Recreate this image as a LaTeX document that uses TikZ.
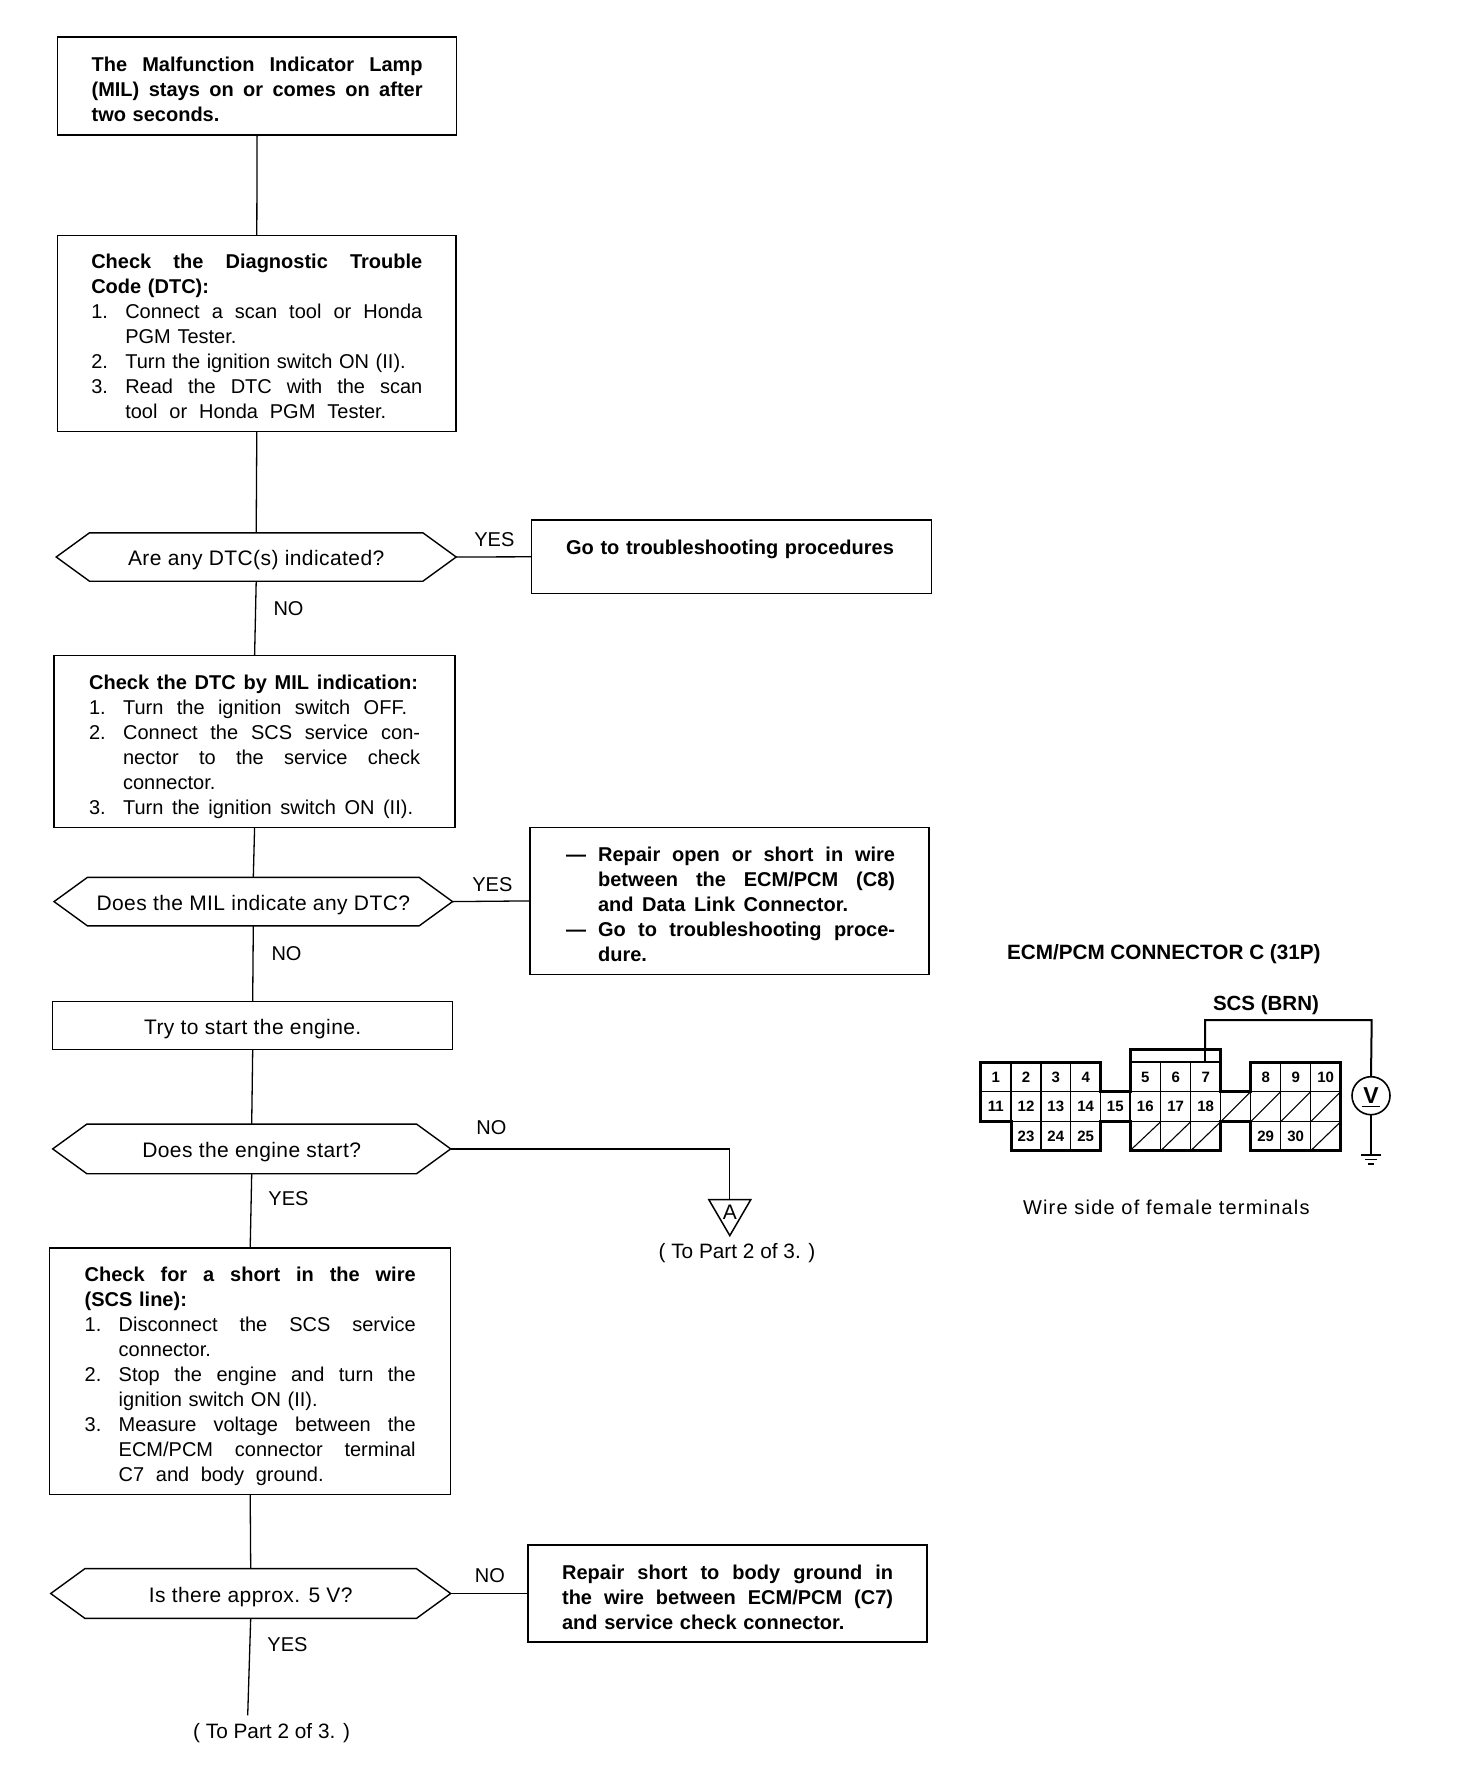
\documentclass[tikz,border=0pt]{standalone}
\usepackage{fontspec}
\setmainfont{Liberation Sans}
\newfontfamily\wirefont[LetterSpace=6]{Liberation Sans}
\newfontfamily\hexfont[LetterSpace=2]{Liberation Sans}
\usetikzlibrary{shapes.symbols,calc}
% line helpers: J/Nj/Cj/Dj stretch the word spaces to the full measure
\newcommand{\sk}{\spaceskip=.278em plus 1fil\xspaceskip=\spaceskip\relax}
\newcommand{\lnstrut}{\rule[-6pt]{0pt}{15pt}}
\newcommand{\tg}[1]{\rule{0pt}{\dimexpr15pt+#1pt\relax}}
\newcommand{\upg}[1]{\rule[-\dimexpr6pt+#1pt\relax]{0pt}{1pt}}
\newcommand{\J}[1]{\lnstrut\hbox to 331pt{\sk #1}}
\newcommand{\Ln}[1]{\lnstrut\hbox to 331pt{#1\hss}}
\newcommand{\Lw}[2]{\lnstrut\hbox to 331pt{\hbox to #1pt{\sk #2}\hss}}
\newcommand{\numb}[1]{\hbox to 34pt{#1\hss}}
\newcommand{\Nj}[2]{\lnstrut\numb{#1}\hbox to 297pt{\sk #2}}
\newcommand{\Nl}[2]{\lnstrut\numb{#1}\hbox to 297pt{#2\hss}}
\newcommand{\Nw}[3]{\lnstrut\numb{#2}\hbox to #1pt{\sk #3}}
\newcommand{\Cj}[1]{\lnstrut\numb{}\hbox to 297pt{\sk #1}}
\newcommand{\Cl}[1]{\lnstrut\numb{}\hbox to 297pt{#1\hss}}
\newcommand{\Cw}[2]{\lnstrut\numb{}\hbox to #1pt{\sk #2}}
\newcommand{\dsh}[1]{\hbox to 34pt{\hskip2pt #1\hss}}
\newcommand{\Dj}[2]{\lnstrut\dsh{#1}\hbox to 297pt{\sk #2}}
\newcommand{\Dl}[2]{\lnstrut\dsh{#1}\hbox to 297pt{#2\hss}}
\newcommand{\Dw}[3]{\lnstrut\dsh{#2}\hbox to #1pt{\sk #3}}
\tikzset{
  x=1pt,y=-1pt,
  base/.style={inner sep=0pt,outer sep=0pt,font=\fontsize{20}{25}\selectfont},
  box/.style={base,draw,line width=1.4pt,text width=331pt,align=left},
  cbox/.style={base,draw,line width=1.4pt,align=center,font=\fontsize{21}{25}\selectfont\hexfont,execute at begin node={\rule[-5pt]{0pt}{27pt}}},
  hex/.style={base,draw,line width=1.4pt,shape=signal,signal to=west and east,signal pointer angle=72,align=center,font=\fontsize{21}{25}\selectfont\hexfont,execute at begin node={\rule[-5pt]{0pt}{27pt}}},
  conn/.style={line width=1.3pt},
  lab/.style={base},
  part/.style={base,font=\fontsize{20.8}{25}\selectfont},
  num/.style={inner sep=0pt,outer sep=0pt,font=\fontsize{15}{16}\selectfont\bfseries},
  cthin/.style={line width=1.1pt},
  cmid/.style={line width=1.9pt},
  cthick/.style={line width=3pt,line join=miter},
}
\begin{document}
\begin{tikzpicture}
\useasboundingbox (0,0) rectangle (1472,1766);
% flowchart boxes
\node[box,minimum width=399pt,minimum height=98pt] (b1) at (257.1,86.1) {\bfseries
 \tg{11}\J{The Malfunction Indicator Lamp}\\ \J{(MIL) stays on or comes on after}\\ \Ln{two seconds.}};
\node[box,minimum width=398.4pt,minimum height=196pt] (b2) at (256.8,333.4) {
 \tg{11.5}\J{\bfseries Check the Diagnostic Trouble}\\ \Ln{\bfseries Code (DTC):}\\
 \Nj{1.}{Connect a scan tool or Honda}\\ \Cl{PGM Tester.}\\
 \Nl{2.}{Turn the ignition switch ON (II).}\\
 \Nj{3.}{Read the DTC with the scan}\\ \Cw{261}{tool or Honda PGM Tester.}};
\node[hex,minimum width=400pt,minimum height=48.4pt] (d1) at (256.2,557) {Are any DTC(s) indicated?};
\node[box,minimum width=400pt,minimum height=73.3pt] (go) at (731.6,556.8) {\bfseries
 \upg{14}\Ln{Go to troubleshooting procedures}};
\node[box,minimum width=401pt,minimum height=172pt] (b3) at (254.6,741.5) {
 \tg{11}\Lw{329}{\bfseries Check the DTC by MIL indication:}\\
 \Nw{284}{1.}{Turn the ignition switch OFF.}\\
 \Nj{2.}{Connect the SCS service con-}\\ \Cj{nector to the service check}\\ \Cl{connector.}\\
 \Nw{290}{3.}{Turn the ignition switch ON (II).}};
\node[hex,minimum width=398.5pt,minimum height=48.5pt] (d2) at (253.3,901.6) {Does the MIL indicate any DTC?};
\node[box,minimum width=399pt,minimum height=146.7pt] (rep) at (729.6,900.9) {\bfseries
 \tg{12}\Dj{—}{Repair open or short in wire}\\ \Dj{}{between the ECM/PCM (C8)}\\ \Dw{250}{}{and Data Link Connector.}\\
 \Dj{—}{Go to troubleshooting proce-}\\ \Dl{}{dure.}};
\node[cbox,minimum width=400pt,minimum height=48.4pt] (try) at (252.7,1025.5) {Try to start the engine.};
\node[hex,minimum width=398pt,minimum height=49.7pt] (d3) at (251.7,1148.9) {Does the engine start?};
\node[box,minimum width=401pt,minimum height=246.7pt] (b4) at (250.2,1371.3) {
 \tg{10.6}\J{\bfseries Check for a short in the wire}\\ \Ln{\bfseries (SCS line):}\\
 \Nj{1.}{Disconnect the SCS service}\\ \Cl{connector.}\\
 \Nj{2.}{Stop the engine and turn the}\\ \Cl{ignition switch ON (II).}\\
 \Nj{3.}{Measure voltage between the}\\ \Cj{ECM/PCM connector terminal}\\ \Cw{205}{C7 and body ground.}};
\node[hex,minimum width=400pt,minimum height=49.7pt] (d4) at (250.7,1593.5) {Is there approx. 5 V?};
\node[box,minimum width=399pt,minimum height=97pt] (sh) at (727.6,1593.5) {\bfseries
 \tg{12}\J{Repair short to body ground in}\\ \J{the wire between ECM/PCM (C7)}\\ \Ln{and service check connector.}};
% off-page marks
\coordinate (tritop) at (729.8,1199.6);
\coordinate (endb) at (247.7,1715.4);
\node[part] (toa) at (737,1253.5) {( To Part 2 of 3. )};
\node[part] (tob) at (271.6,1733) {( To Part 2 of 3. )};
\draw[line width=1.5pt,line join=miter] ($(tritop)+(-21,0)$) -- ($(tritop)+(21,0)$) -- ($(tritop)+(0,36)$) -- cycle;
\node[inner sep=0pt,font=\fontsize{21}{22}\selectfont] (triA) at ($(tritop)+(0,13)$) {A};
% connectors
\draw[conn] (b1.south) -- (b2.north);
\draw[conn] (b2.south) -- (d1.north);
\draw[conn] (d1.east) -- (go.west);
\draw[conn] (d1.south) -- (b3.north);
\draw[conn] (b3.south) -- (d2.north);
\draw[conn] (d2.east) -- (rep.west);
\draw[conn] (d2.south) -- (try.north);
\draw[conn] (try.south) -- (d3.north);
\draw[conn] (d3.east) -| (tritop);
\draw[conn] (d3.south) -- (b4.north);
\draw[conn] (b4.south) -- (d4.north);
\draw[conn] (d4.east) -- (sh.west);
\draw[conn] (d4.south) -- (endb);
% connector labels
\node[lab] (l1) at (494.4,539.2) {YES};
\node[lab] (l2) at (288.5,609) {NO};
\node[lab] (l3) at (492.4,884.3) {YES};
\node[lab] (l4) at (286.5,953.9) {NO};
\node[lab] (l5) at (491.4,1128) {NO};
\node[lab] (l6) at (288.5,1198.6) {YES};
\node[lab] (l7) at (489.9,1575.6) {NO};
\node[lab] (l8) at (287.5,1644.2) {YES};
% terminal diagram
\node[base,font=\fontsize{20.7}{22}\selectfont\bfseries,anchor=west] (ct) at (1007,954) {ECM/PCM CONNECTOR C (31P)};
\node[base,font=\fontsize{20.5}{22}\selectfont\bfseries,anchor=west] (scs) at (1213,1005) {SCS (BRN)};
\node[base,anchor=west,font=\fontsize{20}{22}\selectfont\wirefont] (ws) at (1023,1207) {Wire side of female terminals};
% cell grid
\def\ra{1062.3}\def\rb{1091.7}\def\rc{1121.7}\def\rd{1150.7}\def\hood{1049.3}
\foreach \x in {1011,1041,1070.7}{\draw[cthin] (\x,\ra) -- (\x,\rd);}
\draw[cthin] (1160.7,\ra) -- (1160.7,\rd);
\draw[cthin] (1190.7,\ra) -- (1190.7,\rd);
\draw[cthin] (1280.7,\ra) -- (1280.7,\rd);
\draw[cthin] (1310.7,\ra) -- (1310.7,\rd);
\draw[cthin] (1100.7,\rb) -- (1100.7,\rc);
\draw[cthin] (1130,\rb) -- (1130,\rc);
\draw[cthin] (1220.7,\rb) -- (1220.7,\rc);
\draw[cthin] (1250.7,\rb) -- (1250.7,\rc);
\draw[cmid] (1011,\ra) -- (1011,\rc);
\draw[cthin] (980.7,\rb) -- (1340.7,\rb);
\draw[cthin] (1011,\rc) -- (1340.7,\rc);
\draw[cmid] (1130,\ra) -- (1220.7,\ra);
% hatched cells
\foreach \xa/\xb/\ya/\yb in {1220.7/1250.7/\rc/\rb,1250.7/1280.7/\rc/\rb,1280.7/1310.7/\rc/\rb,1310.7/1340.7/\rc/\rb,
  1130/1160.7/\rd/\rc,1160.7/1190.7/\rd/\rc,1190.7/1220.7/\rd/\rc,1310.7/1340.7/\rd/\rc}
  {\draw[cthin] (\xa,\ya) -- (\xb,\yb);}
% outline
\draw[cthick] (980.7,\ra) -- (1100.7,\ra) -- (1100.7,\rb) -- (1130,\rb) -- (1130,\hood) -- (1220.7,\hood) -- (1220.7,\rb)
  -- (1250.7,\rb) -- (1250.7,\ra) -- (1340.7,\ra) -- (1340.7,\rd) -- (1250.7,\rd) -- (1250.7,\rc) -- (1220.7,\rc)
  -- (1220.7,\rd) -- (1130,\rd) -- (1130,\rc) -- (1100.7,\rc) -- (1100.7,\rd) -- (1011,\rd) -- (1011,\rc) -- (980.7,\rc) -- cycle;
% cell numbers
\foreach \n/\x/\y in {1/995.8/1077,2/1026/1077,3/1055.8/1077,4/1085.7/1077,5/1145.3/1077,6/1175.7/1077,7/1205.7/1077,
  8/1265.7/1077,9/1295.7/1077,10/1325.7/1077,
  11/995.8/1106.7,12/1026/1106.7,13/1055.8/1106.7,14/1085.7/1106.7,15/1115.3/1106.7,16/1145.3/1106.7,17/1175.7/1106.7,18/1205.7/1106.7,
  23/1026/1136,24/1055.8/1136,25/1085.7/1136,29/1265.7/1136,30/1295.7/1136}
  {\node[num] (c\n) at (\x,\y) {\n};}
% voltmeter
\node[circle,draw,line width=1.6pt,minimum size=38pt,inner sep=0pt,outer sep=0pt] (vm) at (1371,1095.7) {};
\node[inner sep=0pt,font=\fontsize{23}{24}\selectfont\bfseries] (vt) at (1371,1095.5) {V};
\coordinate (vuL) at (1362,1106.5);\coordinate (vuR) at (1380,1106.5);
\draw[line width=1.4pt] (vuL) -- (vuR);
\coordinate (hoodt) at (1205,1049.3);
\coordinate (c7top) at (1205,1062.3);
\draw[cthin] (hoodt) -- (c7top);
\draw[line width=2pt,line join=miter] (hoodt) |- (1371.7,1020) -- (vm.north);
\coordinate (gnd) at (1371,1155);
\draw[cmid] (vm.south) -- (gnd);
\draw[cmid] ($(gnd)+(-10,0)$) -- ($(gnd)+(10,0)$);
\draw[cmid] ($(gnd)+(-6,4.5)$) -- ($(gnd)+(6,4.5)$);
\draw[cmid] ($(gnd)+(-3,9)$) -- ($(gnd)+(3,9)$);
\end{tikzpicture}
\end{document}
